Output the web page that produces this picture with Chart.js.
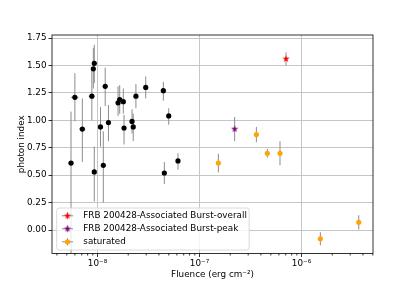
<!DOCTYPE html>
<html>
<head>
<meta charset="utf-8">
<script src="https://cdn.jsdelivr.net/npm/chart.js@4.4.0/dist/chart.umd.min.js"></script>
<style>
  html, body { margin: 0; padding: 0; background: #fff; }
  #wrap { width: 415px; height: 291px; }
</style>
</head>
<body>
<div id="wrap"><canvas id="plot" width="415" height="291"></canvas></div>
<script>
// --- values ---
const blackFluence = [5.5e-9, 6.0e-9, 7.1e-9, 8.8e-9, 9.1e-9, 9.3e-9, 9.3e-9, 1.19e-8, 1.07e-8, 1.14e-8, 1.28e-8, 1.59e-8,
                      1.65e-8, 1.79e-8, 1.82e-8, 2.18e-8, 2.24e-8, 2.38e-8, 2.97e-8, 4.42e-8, 4.99e-8, 6.15e-8, 4.52e-8];
const blackIndex   = [0.61, 1.21, 0.92, 1.22, 1.47, 1.52, 0.53, 1.31, 0.94, 0.59, 0.98, 1.16,
                      1.19, 1.17, 0.93, 0.99, 0.94, 1.22, 1.30, 1.27, 1.04, 0.63, 0.52];
const blackErrLo   = [0.85, 0.22, 0.30, 0.22, 0.18, 0.18, 0.27, 0.18, 0.18, 0.34, 0.17, 0.12,
                      0.13, 0.11, 0.15, 0.11, 0.13, 0.11, 0.10, 0.09, 0.08, 0.08, 0.10];
const blackErrHi   = [0.47, 0.22, 0.28, 0.25, 0.19, 0.17, 0.23, 0.17, 0.18, 0.31, 0.16, 0.15,
                      0.13, 0.12, 0.12, 0.11, 0.12, 0.11, 0.10, 0.08, 0.07, 0.07, 0.10];
const blackFluErr  = [0.36e-9, 0.5e-9, 0.5e-9, 0.6e-9, 0, 0, 0, 0, 0, 0, 0, 0,
                      0, 0, 0, 0, 0, 0, 0, 0, 0, 0, 0];

const overallFluence = [7.05e-7];
const overallIndex   = [1.56];
const overallErr     = [0.06];

const peakFluence = [2.21e-7];
const peakIndex   = [0.92];
const peakErr     = [0.11];

const satFluence = [1.53e-7, 3.61e-7, 4.62e-7, 6.15e-7, 1.53e-6, 3.64e-6];
const satIndex   = [0.61, 0.87, 0.70, 0.70, -0.08, 0.07];
const satErr     = [0.085, 0.07, 0.04, 0.11, 0.06, 0.065];

const xTickValues = [1e-8, 1e-7, 1e-6];
const yTickValues = [0, 0.25, 0.5, 0.75, 1, 1.25, 1.5, 1.75];
const legendLabels = ['FRB 200428-Associated Burst-overall', 'FRB 200428-Associated Burst-peak', 'saturated'];

// axis limits
const xMin = 3.58e-9, xMax = 5.02e-6;
const yMin = -0.214, yMax = 1.778;

// --- styling ---
const FONT = "'DejaVu Sans', sans-serif";
const FSIZE = 8.8;
const gridColor = '#c6c6c6';
const errColor = '#8c8c8c';

Chart.defaults.font.family = FONT;
Chart.defaults.font.size = FSIZE;
Chart.defaults.color = '#000';

function sup(n) {
    const map = { '-': '\u207b', '0': '\u2070', '1': '\u00b9', '2': '\u00b2', '3': '\u00b3', '4': '\u2074',
                  '5': '\u2075', '6': '\u2076', '7': '\u2077', '8': '\u2078', '9': '\u2079' };
    return String(n).split('').map(c => map[c]).join('');
}

// filled 5-point star like matplotlib's '*'
function starImage(color, r) {
    const c = document.createElement('canvas');
    const s = Math.ceil(r * 2 + 2);
    c.width = s; c.height = s;
    const g = c.getContext('2d');
    g.fillStyle = color;
    g.beginPath();
    for (let i = 0; i < 10; i++) {
        const rad = i % 2 ? r * 0.382 : r;
        const a = -Math.PI / 2 + i * Math.PI / 5;
        const px = s / 2 + rad * Math.cos(a), py = s / 2 + rad * Math.sin(a);
        i ? g.lineTo(px, py) : g.moveTo(px, py);
    }
    g.closePath();
    g.fill();
    return c;
}

const redStar = starImage('#ff0000', 3.8);
const purpleStar = starImage('#800080', 3.8);

function toPoints(xs, ys) { return xs.map((v, i) => ({ x: v, y: ys[i] })); }

const datasets = [
    { data: toPoints(blackFluence, blackIndex), errLo: blackErrLo, errHi: blackErrHi, xErr: blackFluErr,
      pointStyle: 'circle', pointRadius: 2.6, backgroundColor: '#000', borderColor: '#000', borderWidth: 0 },
    { data: toPoints(overallFluence, overallIndex), errLo: overallErr, errHi: overallErr, xErr: [0],
      pointStyle: redStar, pointRadius: 4 },
    { data: toPoints(peakFluence, peakIndex), errLo: peakErr, errHi: peakErr, xErr: [0],
      pointStyle: purpleStar, pointRadius: 4 },
    { data: toPoints(satFluence, satIndex), errLo: satErr, errHi: satErr, xErr: satErr.map(() => 0),
      pointStyle: 'circle', pointRadius: 2.6, backgroundColor: '#ffa500', borderColor: '#ffa500', borderWidth: 0 }
];

// --- plugins ---
const errorBars = {
    id: 'errorBars',
    beforeDatasetsDraw(chart) {
        const { ctx, chartArea: a, scales: { x, y } } = chart;
        ctx.save();
        ctx.beginPath();
        ctx.rect(a.left, a.top, a.right - a.left, a.bottom - a.top);
        ctx.clip();
        ctx.strokeStyle = errColor;
        ctx.lineWidth = 1;
        chart.data.datasets.forEach(ds => {
            ds.data.forEach((p, i) => {
                const px = x.getPixelForValue(p.x), py = y.getPixelForValue(p.y);
                ctx.beginPath();
                ctx.moveTo(px, y.getPixelForValue(p.y - ds.errLo[i]));
                ctx.lineTo(px, y.getPixelForValue(p.y + ds.errHi[i]));
                if (ds.xErr[i]) {
                    ctx.moveTo(x.getPixelForValue(p.x - ds.xErr[i]), py);
                    ctx.lineTo(x.getPixelForValue(p.x + ds.xErr[i]), py);
                }
                ctx.stroke();
            });
        });
        ctx.restore();
    }
};

const frameAndMinors = {
    id: 'frameAndMinors',
    afterDatasetsDraw(chart) {
        const { ctx, chartArea: a, scales: { x } } = chart;
        ctx.save();
        ctx.strokeStyle = '#000';
        ctx.lineWidth = 0.8;
        // minor log ticks
        ctx.beginPath();
        for (let e = -9; e <= -6; e++) {
            for (let m = 2; m <= 9; m++) {
                const v = m * Math.pow(10, e);
                if (v < xMin || v > xMax) continue;
                const px = x.getPixelForValue(v);
                ctx.moveTo(px, a.bottom);
                ctx.lineTo(px, a.bottom + 2);
            }
        }
        ctx.stroke();
        ctx.strokeRect(a.left, a.top, a.right - a.left, a.bottom - a.top);
        ctx.restore();
    }
};

const boxLegend = {
    id: 'boxLegend',
    afterDraw(chart) {
        const { ctx } = chart;
        const bx = 56.7, by = 208, bw = 192.5, bh = 42, r = 2.5;
        ctx.save();
        ctx.beginPath();
        ctx.moveTo(bx + r, by);
        ctx.arcTo(bx + bw, by, bx + bw, by + bh, r);
        ctx.arcTo(bx + bw, by + bh, bx, by + bh, r);
        ctx.arcTo(bx, by + bh, bx, by, r);
        ctx.arcTo(bx, by, bx + bw, by, r);
        ctx.closePath();
        ctx.fillStyle = 'rgba(255,255,255,0.8)';
        ctx.fill();
        ctx.strokeStyle = '#d0d0d0';
        ctx.lineWidth = 0.8;
        ctx.stroke();

        const rows = [215.8, 228.8, 241.8];
        const mx = 67.5;
        const handles = [redStar, purpleStar, null];
        rows.forEach((ry, i) => {
            ctx.strokeStyle = errColor;
            ctx.lineWidth = 1;
            ctx.beginPath();
            ctx.moveTo(mx - 5.5, ry); ctx.lineTo(mx + 5.5, ry);
            ctx.moveTo(mx, ry - 3.5); ctx.lineTo(mx, ry + 3.5);
            ctx.stroke();
            if (handles[i]) {
                ctx.drawImage(handles[i], mx - handles[i].width / 2, ry - handles[i].height / 2);
            } else {
                ctx.fillStyle = '#ffa500';
                ctx.beginPath();
                ctx.arc(mx, ry, 2.6, 0, Math.PI * 2);
                ctx.fill();
            }
            ctx.fillStyle = '#000';
            ctx.font = FSIZE + 'px ' + FONT;
            ctx.textBaseline = 'middle';
            ctx.textAlign = 'left';
            ctx.fillText(legendLabels[i], 83.3, ry);
        });
        ctx.restore();
    }
};

new Chart(document.getElementById('plot'), {
    type: 'scatter',
    data: { datasets },
    options: {
        responsive: false,
        animation: false,
        devicePixelRatio: 1,
        events: [],
        layout: { padding: { left: 0, right: 42, top: 35, bottom: 0 } },
        plugins: { legend: { display: false }, tooltip: { enabled: false } },
        scales: {
            x: {
                type: 'logarithmic',
                min: xMin, max: xMax,
                afterFit(s) { s.height = 37.5; },
                afterBuildTicks(s) { s.ticks = xTickValues.map(v => ({ value: v })); },
                grid: { color: gridColor, lineWidth: 1, tickColor: '#000', tickLength: 3.5, tickWidth: 0.8 },
                border: { display: false },
                ticks: {
                    padding: 1.5, maxRotation: 0, autoSkip: false,
                    callback: v => '10' + sup(Math.round(Math.log10(v)))
                },
                title: { display: true, text: 'Fluence (erg cm\u207b\u00b2)', padding: { top: 0, bottom: 10.7 } }
            },
            y: {
                min: yMin, max: yMax,
                afterFit(s) { s.width = 52; },
                afterBuildTicks(s) { s.ticks = yTickValues.map(v => ({ value: v })); },
                grid: { color: gridColor, lineWidth: 1, tickColor: '#000', tickLength: 3.5, tickWidth: 0.8 },
                border: { display: false },
                ticks: { padding: 2, callback: v => Number(v).toFixed(2) },
                title: { display: true, text: 'photon index', padding: { top: 16.7, bottom: 0 } }
            }
        }
    },
    plugins: [errorBars, frameAndMinors, boxLegend]
});
</script>
</body>
</html>
